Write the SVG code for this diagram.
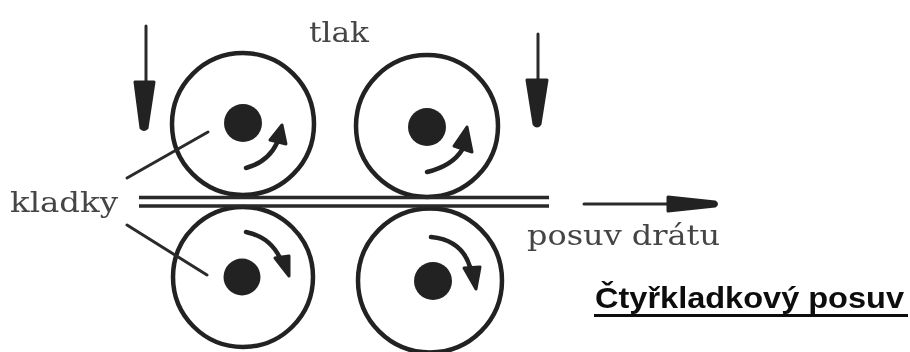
<svg xmlns="http://www.w3.org/2000/svg" width="910" height="352" viewBox="0 0 910 352">
<style>
.rim{fill:none;stroke:#222;stroke-width:4.500}
.hub{fill:#222}
.line{fill:none;stroke:#2a2a2a;stroke-width:3;stroke-linecap:round}
.wire{fill:none;stroke:#2a2a2a;stroke-width:3.500}
.curve{fill:none;stroke:#222;stroke-width:4.500;stroke-linecap:round}
.head{fill:#222;stroke:#222;stroke-width:3;stroke-linejoin:round}
.lab{font-family:"DejaVu Serif","Liberation Serif",serif;fill:#444;font-size:28px}
.title{font-family:"Liberation Sans",Arial,sans-serif;font-weight:bold;font-size:30px;fill:#111}
</style>
<defs><filter id="soft" x="-5%" y="-5%" width="110%" height="110%"><feGaussianBlur stdDeviation="0.7"/></filter></defs>
<rect width="910" height="352" fill="#fff"/>
<g filter="url(#soft)">
<g id="roller-top-left"><circle class="rim" cx="243" cy="124" r="71"/><circle class="hub" cx="243" cy="123" r="19"/></g>
<g id="roller-top-right"><circle class="rim" cx="427" cy="126" r="71"/><circle class="hub" cx="427" cy="127" r="19"/></g>
<g id="roller-bottom-left"><circle class="rim" cx="243" cy="277" r="70"/><circle class="hub" cx="242" cy="277" r="18.500"/></g>
<g id="roller-bottom-right"><circle class="rim" cx="430" cy="280.500" r="72"/><circle class="hub" cx="433" cy="281" r="19"/></g>
<g id="wire"><path class="wire" d="M139 197.500H549M139 206H549"/></g>
<g id="connectors">
<path class="line" d="M146 26V85"/><path class="head" d="M135 82H154L147 128Q144 131 141 128Z"/>
<path class="line" d="M538 34V82"/><path class="head" d="M527 80H547L540 124Q537 128 534 124Z"/>
<path class="line" d="M584 204H680"/><path class="head" d="M668 197L715 202Q718 204 715 206L668 211Z"/>
<path class="line" d="M127 178L208 132"/><path class="line" d="M127 225L207 275"/>
<path class="curve" d="M246 168Q268 162 277 143"/><path class="head" d="M282 125L270 140L286 144Z"/>
<path class="curve" d="M427 172Q452 166 462 150"/><path class="head" d="M467 127L454 146L472 152Z"/>
<path class="curve" d="M246 232Q270 237 280 258"/><path class="head" d="M289 276L275 258L289 256Z"/>
<path class="curve" d="M431 237Q462 240 470 267"/><path class="head" d="M476 289L464 268L480 267Z"/>
</g>
<g id="label-tlak"><text class="lab" x="309" y="42" textLength="60" lengthAdjust="spacingAndGlyphs">tlak</text></g>
<g id="label-kladky"><text class="lab" x="10" y="212" textLength="108" lengthAdjust="spacingAndGlyphs">kladky</text></g>
<g id="label-posuv"><text class="lab" x="527" y="245" textLength="193" lengthAdjust="spacingAndGlyphs">posuv drátu</text></g>
<g id="title"><text class="title" x="595" y="308" textLength="309" lengthAdjust="spacingAndGlyphs">Čtyřkladkový posuv</text><path d="M594 315.500H908" stroke="#111" stroke-width="3"/></g>
</g>
</svg>
